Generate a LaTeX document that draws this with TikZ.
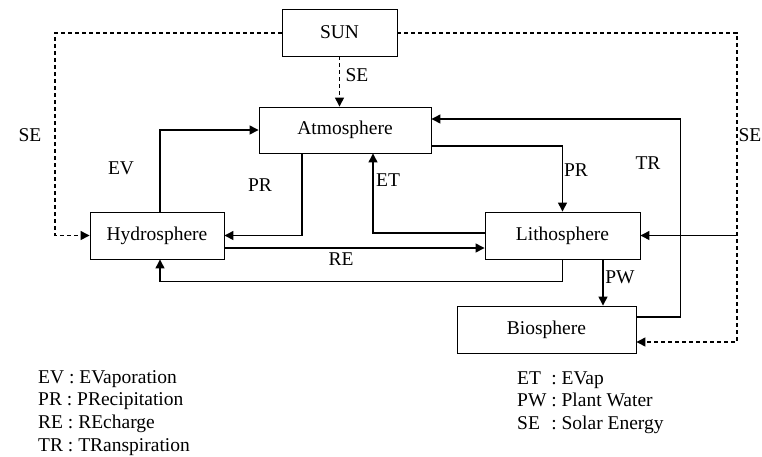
\documentclass[tikz,border=0pt]{standalone}
\usepackage{fontspec}
\setmainfont{Liberation Serif}
\usetikzlibrary{arrows.meta}

\tikzset{
    sphere/.style={rectangle, draw, line width=0.9pt, minimum height=47pt, inner sep=0pt},
    flow/.style={line width=1.3pt, -{Triangle[length=9pt, width=9pt]}},
    solar/.style={line width=1.3pt, dash pattern=on 4pt off 3pt, -{Triangle[length=9pt, width=9pt]}},
    lbl/.style={inner sep=0pt}
}

\begin{document}
\begin{tikzpicture}[x=1pt, y=-1pt, font=\fontsize{19.5}{22.7}\selectfont]

        \useasboundingbox (0,0) rectangle (762,456);

        % Define nodes (boxes)

        \node (sun)  at (339.5, 32.5)  [sphere, minimum width=115pt] {SUN};

        \node (atm)  at (345, 130)     [sphere, minimum width=172pt, minimum height=46pt] {Atmosphere};

        \node (hyd)  at (157, 235.5)   [sphere, minimum width=134pt] {Hydrosphere};

        \node (lith) at (562.5, 235.5) [sphere, minimum width=155pt] {Lithosphere};

        \node (bio)  at (546.5, 329.5) [sphere, minimum width=179pt] {Biosphere};

        % corners of the solar energy lines

        \coordinate (seleft)  at (55, 33);

        \coordinate (seright) at (737, 33);

        % Draw arrows between nodes

        \draw[solar] (sun.south) -- (sun.south |- atm.north);

        \draw[solar] (sun.west |- seleft) -- (seleft) |- (hyd.west);

        \draw[solar] (sun.east |- seright) -- (seright) |- ([yshift=-12.5pt]bio.east);

        \draw[flow] (seright |- lith.east) -- (lith.east);

        \draw[flow] ([xshift=3pt]hyd.north) |- (atm.west);

        \draw[flow] ([xshift=-43pt]atm.south) |- (hyd.east);

        \draw[flow] ([yshift=2.5pt]lith.west) -| ([xshift=28pt]atm.south);

        \draw[flow] ([yshift=-12.5pt]hyd.east) -- ([yshift=-12.5pt]lith.west);

        \draw[flow] (lith.south) -- ++(0, 22) -| ([xshift=3pt]hyd.south);

        \draw[flow] ([yshift=-16pt]atm.east) -| (lith.north);

        \draw[flow] ([xshift=40.5pt]lith.south) -- ([xshift=40.5pt]lith.south |- bio.north);

        \draw[flow] ([yshift=12.5pt]bio.east) -- ++(44, 0) |- ([yshift=11pt]atm.east);

        % labels of the flows

        \node (sesun)   at (357, 75)  [lbl] {SE};

        \node (seleftl) at (30, 135)  [lbl] {SE};

        \node (serightl) at (750, 135) [lbl] {SE};

        \node (ev)   at (121, 168) [lbl] {EV};

        \node (prl)  at (260, 185) [lbl] {PR};

        \node (et)   at (388, 180) [lbl] {ET};

        \node (prr)  at (576, 170) [lbl] {PR};

        \node (tr)   at (648, 163) [lbl] {TR};

        \node (re)   at (341, 259) [lbl] {RE};

        \node (pw)   at (620, 277) [lbl] {PW};

        % legend

        \node (legleft) at (38, 370) [lbl, anchor=north west, align=left]
            {EV : EVaporation\\PR : PRecipitation\\RE : REcharge\\TR : TRanspiration};

        \node (legright) at (517, 368) [lbl, anchor=north west]
            {\begin{tabular}{@{}l@{ : }l@{}}
             ET & EVap\\
             PW & Plant Water\\
             SE & Solar Energy
             \end{tabular}};

\end{tikzpicture}
\end{document}
